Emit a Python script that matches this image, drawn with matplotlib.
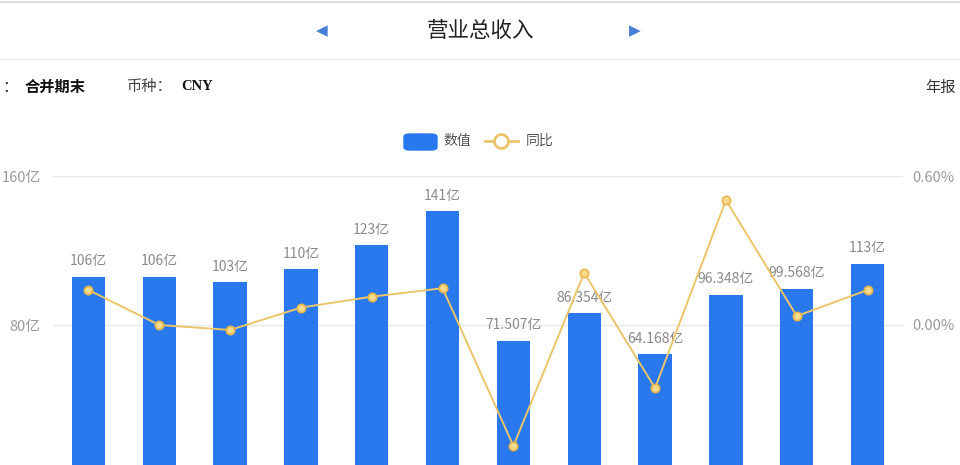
import matplotlib
matplotlib.use('Agg')
import matplotlib.pyplot as plt
from matplotlib.lines import Line2D
from matplotlib.patches import FancyBboxPatch

plt.rcParams['font.family'] = ['Noto Sans CJK SC', 'DejaVu Sans']

# data (亿元, 同比 as shown on the right axis)
periods = ['2011', '2012', '2013', '2014', '2015', '2016',
           '2017', '2018', '2019', '2020', '2021', '2022']
revenue = [106, 106, 103, 110, 123, 141, 71.507, 86.354, 64.168, 96.348, 99.568, 113]
revenue_labels = ['106亿', '106亿', '103亿', '110亿', '123亿', '141亿',
                  '71.507亿', '86.354亿', '64.168亿', '96.348亿', '99.568亿', '113亿']
yoy = [0.141, 0.0, -0.02, 0.07, 0.114, 0.148, -0.487, 0.21, -0.254, 0.503, 0.036, 0.141]

BAR_COLOR = '#2a78ee'
LINE_COLOR = '#eac56a'
GRID = '#e9e9e9'
TICK = '#9a9a9a'

fig = plt.figure(figsize=(9.6, 4.65), dpi=100)

# header lines
fig.add_artist(Line2D([0, 1], [1 - 2 / 465, 1 - 2 / 465], color='#dcdcdc', lw=1.5))
fig.add_artist(Line2D([0, 1], [1 - 59 / 465, 1 - 59 / 465], color='#efefef', lw=1))

# title and arrows
fig.text(0.5, 1 - 31 / 465, '营业总收入', ha='center', va='center', fontsize=15.5,
         color='#222222', fontweight='medium')
fig.text(322 / 960, 1 - 31 / 465, '◀', ha='center', va='center', fontsize=11, color='#4a7fd6',
         family=['DejaVu Sans'])
fig.text(635 / 960, 1 - 31 / 465, '▶', ha='center', va='center', fontsize=11, color='#4a7fd6',
         family=['DejaVu Sans'])

# info row
fig.text(2 / 960, 1 - 87 / 465, '：', ha='left', va='center', fontsize=11, color='#222222')
fig.text(25 / 960, 1 - 87 / 465, '合并期末', ha='left', va='center', fontsize=11,
         color='#111111', fontweight='bold')
fig.text(127 / 960, 1 - 87 / 465, '币种：', ha='left', va='center', fontsize=11, color='#444444')
fig.text(181 / 960, 1 - 87 / 465, 'CNY', ha='left', va='center', fontsize=10.5,
         color='#111111', fontweight='bold', family=['Liberation Serif', 'DejaVu Serif'])
fig.text(925 / 960, 1 - 87 / 465, '年报', ha='left', va='center', fontsize=11, color='#333333')

# legend
fig.add_artist(FancyBboxPatch((404 / 960, 1 - 150 / 465), 33 / 960, 16 / 465,
                              boxstyle='round,pad=0,rounding_size=0.006',
                              transform=fig.transFigure, color=BAR_COLOR))
fig.text(443 / 960, 1 - 141 / 465, '数值', ha='left', va='center', fontsize=10, color='#555555')
fig.add_artist(Line2D([485 / 960, 518 / 960], [1 - 141 / 465, 1 - 141 / 465],
                      color=LINE_COLOR, lw=2))
fig.add_artist(Line2D([501.5 / 960], [1 - 141 / 465], marker='o', markersize=10,
                      markerfacecolor='white', markeredgecolor=LINE_COLOR, markeredgewidth=2))
fig.text(526 / 960, 1 - 141 / 465, '同比', ha='left', va='center', fontsize=10, color='#555555')

# main axes (bottom extends slightly below the picture)
left, right = 53 / 960, 903 / 960
top, bottom = 1 - 176 / 465, 1 - 474 / 465
ax = fig.add_axes([left, bottom, right - left, top - bottom])
x = list(range(len(periods)))
ax.bar(x, revenue, width=0.47, color=BAR_COLOR, zorder=2)
ax.set_xlim(-0.5, len(periods) - 0.5)
ax.set_ylim(0, 160)
ax.set_yticks([0, 80, 160])
ax.set_yticklabels(['', '80亿', '160亿'])
ax.set_xticks([])
ax.grid(axis='y', color=GRID, lw=1, zorder=0)
for s in ax.spines.values():
    s.set_visible(False)
ax.tick_params(axis='y', length=0, pad=9, labelsize=10.5, labelcolor=TICK)

for i, (v, lab) in enumerate(zip(revenue, revenue_labels)):
    ax.annotate(lab, (i, v), xytext=(0, 6), textcoords='offset points',
                ha='center', va='bottom', fontsize=10, color='#8a8a8a', zorder=5)

ax2 = ax.twinx()
ax2.set_ylim(-0.6, 0.6)
ax2.set_yticks([-0.6, 0, 0.6])
ax2.set_yticklabels(['', '0.00%', '0.60%'])
for s in ax2.spines.values():
    s.set_visible(False)
ax2.tick_params(axis='y', length=0, pad=7, labelsize=10.5, labelcolor=TICK)
ax2.plot(x, yoy, color=LINE_COLOR, lw=1.4, marker='o', markersize=6,
         markerfacecolor='#f6db8c', markeredgecolor='#e9b54a', markeredgewidth=1.2, zorder=3)

fig.savefig('out.png', dpi=100, facecolor='white')
